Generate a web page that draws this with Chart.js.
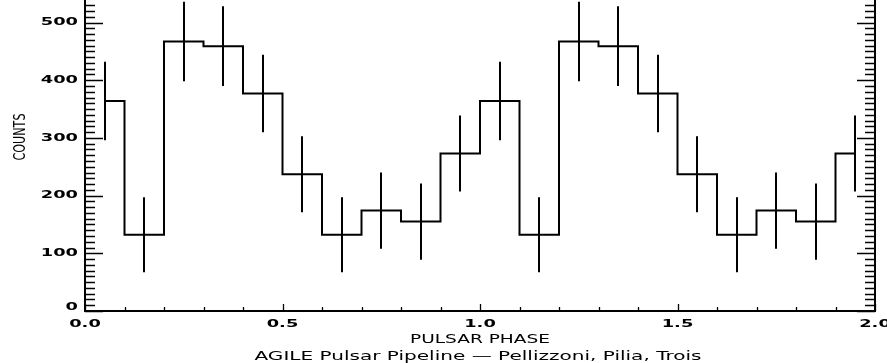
<!DOCTYPE html>
<html>
<head>
<meta charset="utf-8">
<script src="https://cdn.jsdelivr.net/npm/chart.js@4.4.1/dist/chart.umd.min.js"></script>
<style>
    html, body { margin: 0; padding: 0; background: #ffffff; }
    canvas { display: block; }
</style>
</head>
<body>
<canvas id="lightcurve" width="887" height="363"></canvas>
<script>
// Folded light curve, two pulsar periods (20 phase bins)
const phaseBins = [
    0.05, 0.15, 0.25, 0.35, 0.45, 0.55, 0.65, 0.75, 0.85, 0.95,
    1.05, 1.15, 1.25, 1.35, 1.45, 1.55, 1.65, 1.75, 1.85, 1.95
];
const counts = [
    364, 132, 467, 459, 377, 237, 132, 174, 155, 273,
    364, 132, 467, 459, 377, 237, 132, 174, 155, 273
];
const countErrors = [
    68, 65, 69, 69, 67, 66, 65, 66, 66, 66,
    68, 65, 69, 69, 67, 66, 65, 66, 66, 66
];

const yTickValues = [0, 100, 200, 300, 400, 500];
const yTickLabels = ['0', '100', '200', '300', '400', '500'];
const xTickValues = [0, 0.5, 1.0, 1.5, 2.0];
const xTickLabels = ['0.0', '0.5', '1.0', '1.5', '2.0'];

const xTitle = 'PULSAR PHASE';
const yTitle = 'COUNTS';
const footer = 'AGILE Pulsar Pipeline \u2014 Pellizzoni, Pilia, Trois';

const INK = '#000000';
const TICK_FONT = 'bold 11px "DejaVu Sans"';
const TICK_STRETCH = 1.62;

// draw text horizontally stretched, either by a factor or to a fixed width
function drawStretched(ctx, text, x, y, font, opts = {}) {
    ctx.save();
    ctx.font = font;
    const w = ctx.measureText(text).width;
    const sx = opts.width ? opts.width / w : (opts.stretch || 1);
    ctx.translate(x, y);
    if (opts.rotate) {
        ctx.rotate(-Math.PI / 2);
    }
    ctx.scale(sx, 1);
    ctx.textAlign = opts.align || 'center';
    ctx.textBaseline = 'middle';
    ctx.fillStyle = INK;
    ctx.fillText(text, 0, 0);
    ctx.restore();
}

// IDL-style frame: inward ticks on left/right/bottom, labels underneath
const idlAxes = {
    id: 'idlAxes',
    afterDraw(chart) {
        const { ctx, chartArea: area, scales } = chart;
        const xs = scales.x;
        const ys = scales.y;

        ctx.save();
        ctx.strokeStyle = INK;

        // error bars
        ctx.lineWidth = 2;
        ctx.beginPath();
        phaseBins.forEach((p, i) => {
            const px = Math.round(xs.getPixelForValue(p));
            ctx.moveTo(px, ys.getPixelForValue(counts[i] + countErrors[i]));
            ctx.lineTo(px, ys.getPixelForValue(counts[i] - countErrors[i]));
        });
        ctx.stroke();

        // frame
        ctx.lineWidth = 2;
        ctx.beginPath();
        ctx.moveTo(area.left, area.top);
        ctx.lineTo(area.left, area.bottom);
        ctx.lineTo(area.right, area.bottom);
        ctx.lineTo(area.right, area.top);
        ctx.stroke();

        // y ticks, minor every 10 counts
        ctx.lineWidth = 1.3;
        ctx.beginPath();
        for (let v = 0; v <= ys.max; v += 10) {
            const py = Math.round(ys.getPixelForValue(v)) + 0.5;
            const len = v % 100 === 0 ? 18 : 10;
            ctx.moveTo(area.left, py);
            ctx.lineTo(area.left + len, py);
            ctx.moveTo(area.right, py);
            ctx.lineTo(area.right - len, py);
        }
        // x ticks, minor every 0.1
        for (let k = 0; k <= 20; k++) {
            const px = Math.round(xs.getPixelForValue(k / 10)) + 0.5;
            const len = k % 5 === 0 ? 7 : 4;
            ctx.moveTo(px, area.bottom);
            ctx.lineTo(px, area.bottom - len);
        }
        ctx.stroke();
        ctx.restore();

        // tick labels
        yTickValues.forEach((v, i) => {
            const py = Math.min(ys.getPixelForValue(v), area.bottom - 4);
            drawStretched(ctx, yTickLabels[i], 78, py, TICK_FONT, { stretch: TICK_STRETCH, align: 'right' });
        });
        xTickValues.forEach((v, i) => {
            drawStretched(ctx, xTickLabels[i], xs.getPixelForValue(v), 324.5, TICK_FONT, { stretch: TICK_STRETCH });
        });

        // titles
        drawStretched(ctx, xTitle, 480, 339.5, '12px "DejaVu Sans"', { width: 140 });
        drawStretched(ctx, footer, 478, 356.5, '12px "DejaVu Sans"', { width: 447 });
        drawStretched(ctx, yTitle, 21, 137, '16px "DejaVu Sans"', { width: 47, rotate: true });
    }
};

new Chart(document.getElementById('lightcurve'), {
    type: 'line',
    data: {
        datasets: [{
            data: phaseBins.map((p, i) => ({ x: p, y: counts[i] })),
            stepped: 'middle',
            borderColor: INK,
            borderWidth: 2,
            pointRadius: 0,
            fill: false
        }]
    },
    options: {
        responsive: false,
        animation: false,
        devicePixelRatio: 1,
        layout: {
            padding: { left: 85, right: 12, top: 0, bottom: 52 }
        },
        scales: {
            x: { type: 'linear', min: 0, max: 2, display: false },
            y: { type: 'linear', min: 0, max: 539, display: false }
        },
        plugins: {
            legend: { display: false },
            tooltip: { enabled: false }
        }
    },
    plugins: [idlAxes]
});
</script>
</body>
</html>
